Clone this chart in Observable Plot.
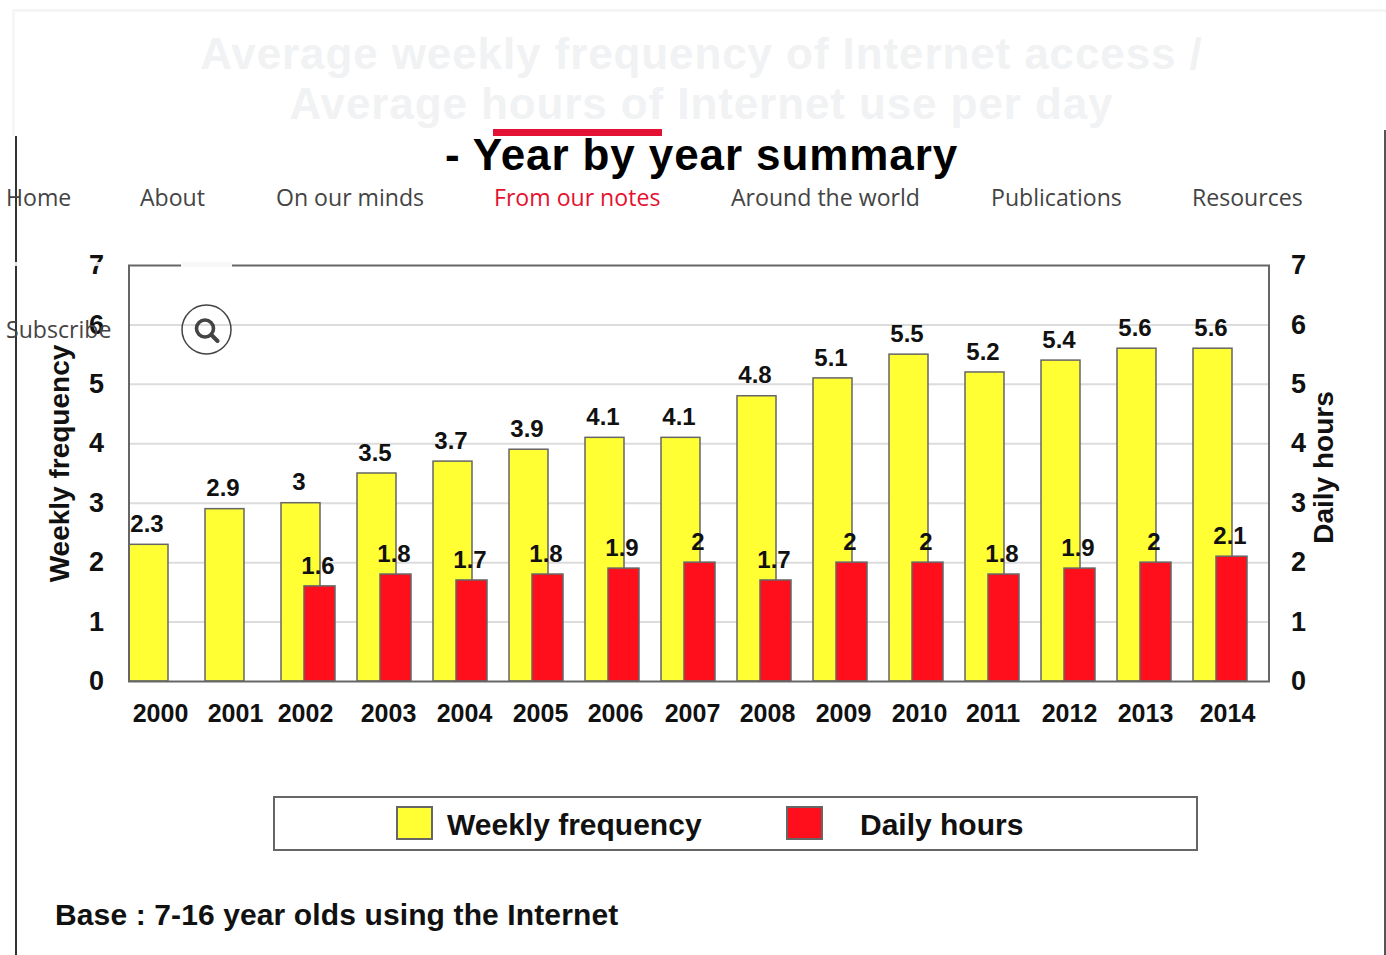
<!DOCTYPE html>
<html>
<head>
<meta charset="utf-8">
<script src="https://cdn.jsdelivr.net/npm/d3@7"></script>
<script src="https://cdn.jsdelivr.net/npm/@observablehq/plot@0.6"></script>
<style>
html,body{margin:0;padding:0;background:#fff;overflow:hidden}
#page{position:relative;width:1386px;height:955px;overflow:hidden}
#page svg.plot{position:absolute;left:0;top:0}
.o{position:absolute;white-space:nowrap}
.ti{font:bold 44px "Liberation Sans",sans-serif;letter-spacing:.9px;color:#f1f2f3;left:0;width:1403px;text-align:center;line-height:50px}
.nav{font:23.1px "Open Sans",sans-serif;color:#444;line-height:32px}
.leg{font:bold 30px "Liberation Sans",sans-serif;color:#111;line-height:36px}
</style>
</head>
<body>
<div id="page"></div>
<script>
const years = [2000,2001,2002,2003,2004,2005,2006,2007,2008,2009,2010,2011,2012,2013,2014];
const weeklyFrequency = [2.3,2.9,3,3.5,3.7,3.9,4.1,4.1,4.8,5.1,5.5,5.2,5.4,5.6,5.6];
const hourYears = [2002,2003,2004,2005,2006,2007,2008,2009,2010,2011,2012,2013,2014];
const dailyHours = [1.6,1.8,1.7,1.8,1.9,2,1.7,2,2,1.8,1.9,2,2.1];
const yTicks = [0,1,2,3,4,5,6,7];
const navItems = ["Home","About","On our minds","From our notes","Around the world","Publications","Resources"];

const weekly = years.map((year,i)=>({year,value:weeklyFrequency[i]}));
const hours = hourYears.map((year,i)=>({year,value:dailyHours[i]}));

const font = '"Liberation Sans",sans-serif';
const yearAxis = (ticks,dx)=>Plot.axisX(ticks,{anchor:"bottom",tickSize:0,tickPadding:23,dx,fontSize:25,fontWeight:"bold",fill:"#111",label:null,tickFormat:d=>String(d)});
const valueAxis = (anchor,tickPadding)=>Plot.axisY(yTicks,{anchor,tickSize:0,tickPadding,fontSize:27,fontWeight:"bold",fill:"#111",label:null,tickFormat:d=>String(d)});
const valueLabels = (data,dx)=>Plot.text(data,{x:"year",y:"value",text:d=>String(d.value),dx,dy:-20.5,fontSize:24,fontWeight:"bold",fill:"#111"});

const chart = Plot.plot({
  width:1386,height:955,
  marginLeft:128.5,marginRight:117.5,marginTop:265,marginBottom:274,
  style:{fontFamily:font,background:"transparent"},
  x:{type:"band",domain:years,padding:0,label:null,axis:null},
  y:{domain:[0,7],label:null,axis:null},
  marks:[
    Plot.gridY(yTicks.slice(1,-1),{stroke:"#dcdcdc",strokeOpacity:1,strokeWidth:2}),
    Plot.barY(weekly,{x:"year",y:"value",fill:"#ffff33",stroke:"#666",strokeWidth:1.5,insetRight:37}),
    valueLabels(weekly,-20.5),
    Plot.barY(hours,{x:"year",y:"value",fill:"#ff0f1c",stroke:"#666",strokeWidth:1.5,insetLeft:23,insetRight:22}),
    valueLabels(hours,-1.5),
    Plot.frame({stroke:"#666",strokeWidth:2}),
    valueAxis("left",25),
    valueAxis("right",22),
    yearAxis([2000,2003,2004,2005,2007],-7),
    yearAxis([2001,2006,2008,2009,2010],-8),
    yearAxis([2002],-14),
    yearAxis([2011],-10.5),
    yearAxis([2012,2013],-10),
    yearAxis([2014],-4),
    Plot.text(["Weekly frequency"],{frameAnchor:"left",textAnchor:"middle",rotate:-90,dx:-69,dy:-10,fontSize:28,fontWeight:"bold",fill:"#111"}),
    Plot.text(["Daily hours"],{frameAnchor:"right",textAnchor:"middle",rotate:-90,dx:55,dy:-6,fontSize:28,fontWeight:"bold",fill:"#111"})
  ]
});
chart.classList.add("plot");
const page = document.getElementById("page");
page.appendChild(chart);

function add(cls,text,css){const d=document.createElement("div");d.className="o "+cls;if(text)d.textContent=text;d.style.cssText=css;page.appendChild(d);return d;}

// washed-out page header behind the navigation
add("","", "left:12px;top:9px;width:1374px;height:127px;border-top:3px solid #f4f4f5;border-left:3px solid #f6f6f7;box-sizing:border-box");
add("ti","Average weekly frequency of Internet access /","top:29px");
add("ti","Average hours of Internet use per day","top:79px");
add("ti","- Year by year summary","top:130px;color:#000");
// page edges
add("","", "left:15px;top:136px;width:2px;height:819px;background:#333");
add("","", "left:1384px;top:130px;width:2px;height:825px;background:#555");
add("","", "left:0;top:262px;width:110px;height:4px;background:rgba(255,255,255,.85)");
add("","", "left:181px;top:262px;width:51px;height:5px;background:#f8f8f8");
// navigation
add("","", "left:493px;top:129px;width:169px;height:7px;background:#e31134");
const navLeft=[6,140,276,494,731,991,1192];
navItems.forEach((t,i)=>add("nav",t,`left:${navLeft[i]}px;top:181px;${t==="From our notes"?"color:#e4122f":""}`));
add("nav","Subscribe","left:6px;top:313px");
const icon=add("","", "left:181px;top:304px;width:51px;height:51px");
icon.innerHTML='<svg width="51" height="51" viewBox="0 0 51 51"><circle cx="25.5" cy="25.5" r="24.5" fill="none" stroke="#444" stroke-width="1.5"/><circle cx="24" cy="24.5" r="8.5" fill="none" stroke="#444" stroke-width="3.6"/><line x1="30.5" y1="31" x2="36.5" y2="37" stroke="#444" stroke-width="4" stroke-linecap="round"/></svg>';
// legend and base
add("","", "left:273px;top:796px;width:925px;height:55px;border:2px solid #666;box-sizing:border-box");
add("","", "left:396px;top:806px;width:37px;height:34px;background:#ffff33;border:2px solid #666;box-sizing:border-box");
add("","", "left:786px;top:806px;width:37px;height:34px;background:#ff0f1c;border:2px solid #666;box-sizing:border-box");
add("leg","Weekly frequency","left:447px;top:807px");
add("leg","Daily hours","left:860px;top:807px");
add("leg","Base : 7-16 year olds using the Internet","left:55px;top:897px;letter-spacing:.12px");
</script>
</body>
</html>
